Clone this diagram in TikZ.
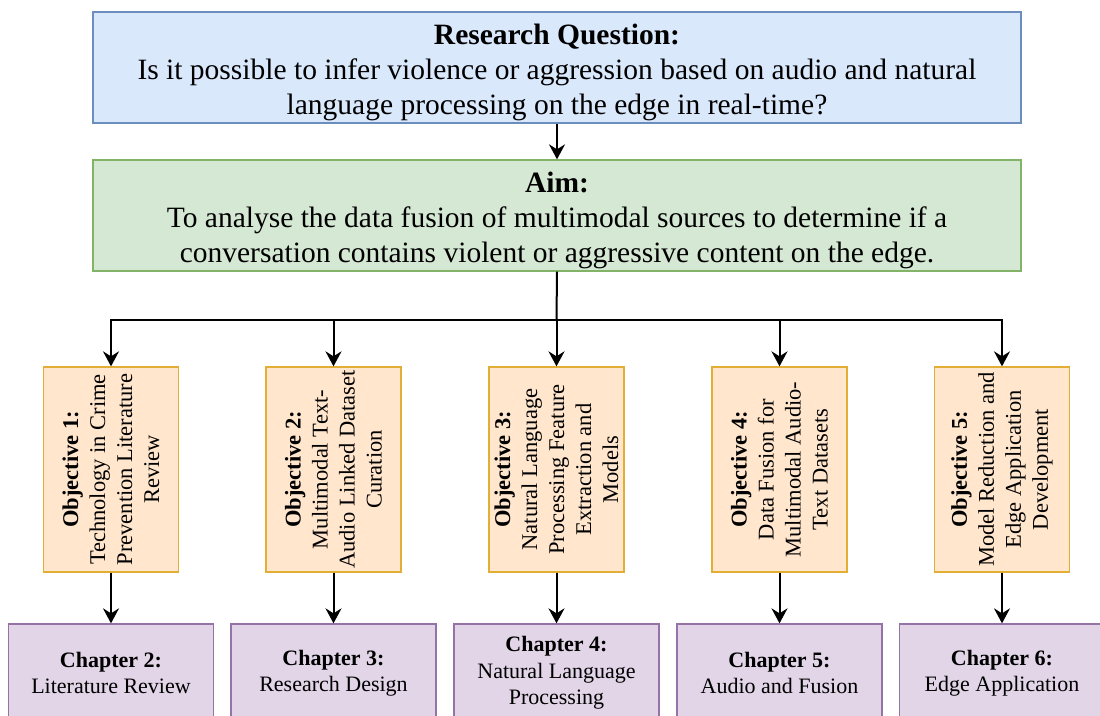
\documentclass[tikz,border=0pt]{standalone}
\usepackage{fontspec}
\setmainfont{Liberation Serif}
\usetikzlibrary{arrows.meta}

\definecolor{qfill}{HTML}{DAE8FC}
\definecolor{qline}{HTML}{6C8EBF}
\definecolor{afill}{HTML}{D5E8D4}
\definecolor{aline}{HTML}{82B366}
\definecolor{ofill}{HTML}{FFE6CC}
\definecolor{oline}{HTML}{E2AE36}
\definecolor{cfill}{HTML}{E1D5E7}
\definecolor{cline}{HTML}{9673A6}

% strut that lowers a heading line slightly inside its box
\newcommand{\headstrut}{\rule{0pt}{30pt}}

\begin{document}
\begin{tikzpicture}[x=1pt,y=-1pt,
  box/.style={draw, line width=1.3pt, inner sep=0pt, align=center},
  wide/.style={box, minimum width=928pt, minimum height=111pt,
    font=\fontsize{29.5}{35}\selectfont},
  objbox/.style={box, fill=ofill, draw=oline, rotate=90,
    minimum width=205pt, minimum height=135pt,
    font=\fontsize{22.5}{27}\selectfont},
  chapbox/.style={box, fill=cfill, draw=cline,
    minimum width=205pt, minimum height=98pt,
    font=\fontsize{22}{26.5}\selectfont},
  arr/.style={line width=2pt, -{Stealth[length=15pt,width=16pt,inset=5pt]}},
  bus/.style={line width=2pt}
]
\useasboundingbox (0,0) rectangle (1100,715);
\clip (0,0) rectangle (1100,715);

% question and aim
\node[wide, fill=qfill, draw=qline] (rq) at (557,67.5)
  {\headstrut\textbf{Research Question:}\\Is it possible to infer violence or aggression based on audio and natural\\language processing on the edge in real-time?};
\node[wide, fill=afill, draw=aline] (aim) at (557,215.5)
  {\headstrut\textbf{Aim:}\\To analyse the data fusion of multimodal sources to determine if a\\conversation contains violent or aggressive content on the edge.};

% objectives (rotated: local east is the top edge)
\node[objbox] (o1) at (111,469.5)
  {\textbf{Objective 1:}\\Technology in Crime\\Prevention Literature\\Review};
\node[objbox] (o2) at (333.5,469.5)
  {\textbf{Objective 2:}\\Multimodal Text-\\Audio Linked Dataset\\Curation};
\node[objbox] (o3) at (556.5,469.5)
  {\textbf{Objective 3:}\\Natural Language\\Processing Feature\\Extraction and\\Models};
\node[objbox] (o4) at (779.5,469.5)
  {\textbf{Objective 4:}\\Data Fusion for\\Multimodal Audio-\\Text Datasets};
\node[objbox] (o5) at (1002,469.5)
  {\textbf{Objective 5:}\\Model Reduction and\\Edge Application\\Development};

% chapters
\node[chapbox] (c2) at (111,673) {\textbf{Chapter 2:}\\Literature Review};
\node[chapbox] (c3) at (333.5,673) {\textbf{Chapter 3:}\\Research Design};
\node[chapbox] (c4) at (556.5,673) {\textbf{Chapter 4:}\\Natural Language\\Processing};
\node[chapbox] (c5) at (779.5,673) {\textbf{Chapter 5:}\\Audio and Fusion};
\node[chapbox] (c6) at (1002,673) {\textbf{Chapter 6:}\\Edge Application};

% connectors
\coordinate (j) at (556.5,319.5);
\draw[arr] (rq) -- (aim);
\draw[bus] (aim.south) -- (j);
\foreach \o in {o1,o2,o3,o4,o5}
  \draw[arr] (j) -| (\o.east);
\foreach \o/\c in {o1/c2,o2/c3,o3/c4,o4/c5,o5/c6}
  \draw[arr] (\o.west) -- (\c.north);
\end{tikzpicture}
\end{document}
